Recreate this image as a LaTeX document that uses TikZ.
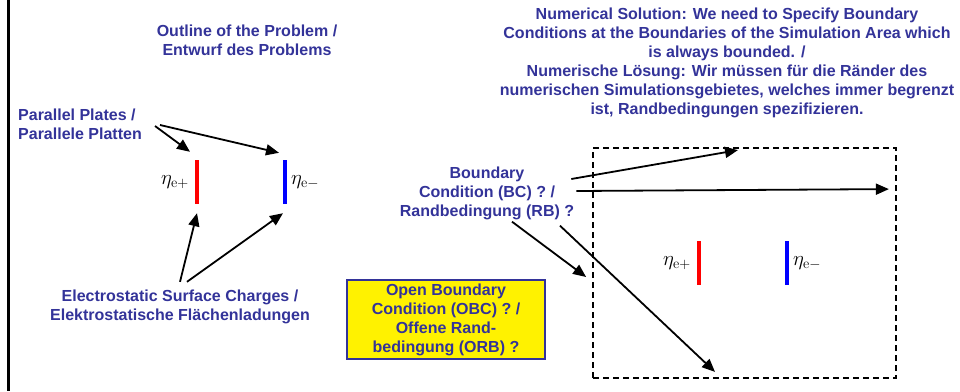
\documentclass[tikz,border=0pt]{standalone}
\usepackage[no-math]{fontspec}
\setmainfont{Liberation Sans}
\usetikzlibrary{arrows.meta,positioning}
\definecolor{txtblue}{RGB}{51,51,153}
\tikzset{
  lbl/.style={font=\fontsize{16}{19}\selectfont\bfseries,text=txtblue,
    align=center,inner sep=2pt},
  plate/.style={minimum width=3.5pt,minimum height=44pt,inner sep=0pt},
  eta/.style={font=\fontsize{20}{24}\selectfont,inner sep=1pt},
  obc/.style={lbl,draw=txtblue,line width=2.4pt,fill=yellow,
    minimum width=198pt,minimum height=79pt},
  simbox/.style={draw,dash pattern=on 6pt off 4pt,line width=1.8pt,
    minimum width=303pt,minimum height=230pt},
  flow/.style={-{Triangle[length=13pt,width=11pt]},line width=1.8pt},
}

\begin{document}
\begin{tikzpicture}[x=1pt,y=-1pt]
  \useasboundingbox (0,0) rectangle (960,391);
  \draw[line width=2.6pt] (8.7,0) -- (8.7,391);

  % left: outline of the problem
  \node[lbl] (outline) at (247,40.5) {Outline of the Problem /\\Entwurf des Problems};
  \node[lbl,align=left,anchor=west] (plates) at (16,124.5)
    {Parallel Plates /\\Parallele Platten};
  \node[plate,fill=red] (rp) at (197,182) {};
  \node[plate,fill=blue] (bp) at (285,182) {};
  \node[eta,left=5pt of rp] (etap) {$\eta_{\mathrm{e}+}$};
  \node[eta,right=3pt of bp] (etam) {$\eta_{\mathrm{e}-}$};
  \node[lbl] (charges) at (180,307)
    {Electrostatic Surface Charges /\\Elektrostatische Flächenladungen};

  \draw[flow] ([shift={(11,1.5)}]plates.east) -- ([shift={(-7,-8)}]rp.north);
  \draw[flow] ([shift={(16,0.5)}]plates.east) -- ([shift={(-6,-7)}]bp.north);
  \draw[flow] ([shift={(0,-6)}]charges.north) -- ([shift={(0,9)}]rp.south);
  \draw[flow] ([shift={(7,-6)}]charges.north) -- ([shift={(-2,9)}]bp.south);

  % right: numerical solution
  \node[lbl] (numsol) at (727,63)
    {Numerical Solution: We need to Specify Boundary\\
     Conditions at the Boundaries of the Simulation Area which\\
     is always bounded. /\\
     Numerische Lösung: Wir müssen für die Ränder des\\
     numerischen Simulationsgebietes, welches immer begrenzt\\
     ist, Randbedingungen spezifizieren.};
  \node[simbox] (sim) at (744.5,263) {};
  \node[plate,fill=red] (rp2) at (699,263) {};
  \node[plate,fill=blue] (bp2) at (787,263) {};
  \node[eta,left=5pt of rp2] (etap2) {$\eta_{\mathrm{e}+}$};
  \node[eta,right=3pt of bp2] (etam2) {$\eta_{\mathrm{e}-}$};
  \node[lbl] (bc) at (487,193) {Boundary\\Condition (BC) ? /\\Randbedingung (RB) ?};
  \node[obc] (obcbox) at (446,319.5)
    {Open Boundary\\Condition (OBC) ? /\\Offene Rand-\\bedingung (ORB) ?};

  \draw[flow] ([shift={(-5,-14)}]bc.east) -- ([shift={(-6.5,3)}]sim.north);
  \draw[flow] ([shift={(0,-2)}]bc.east) -- ([shift={(-8,42)}]sim.north east);
  \draw[flow] ([shift={(25,0)}]bc.south) -- ([shift={(-6,14)}]sim.west);
  \draw[flow] ([shift={(73,4)}]bc.south) -- ([shift={(-29.5,-7)}]sim.south);
\end{tikzpicture}
\end{document}
